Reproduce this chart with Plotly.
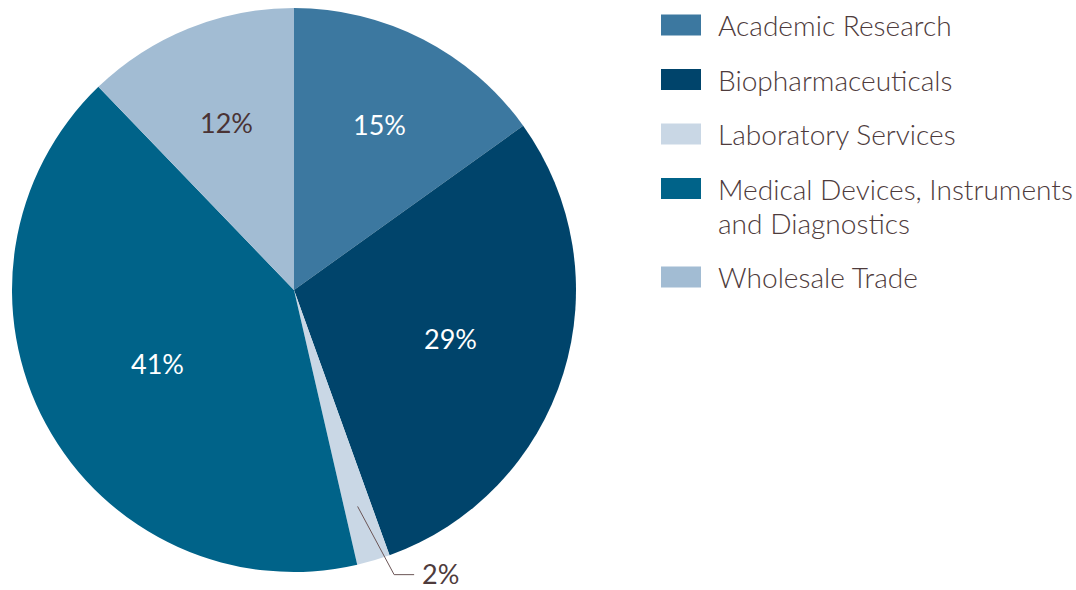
import math
import plotly.graph_objects as go

# ---- data ----
categories = ["Academic Research", "Biopharmaceuticals", "Laboratory Services",
              "Medical Devices, Instruments<br>and Diagnostics", "Wholesale Trade"]
values = [15.1, 29.4, 1.9, 41.4, 12.2]
colors = ["#3c78a0", "#00446b", "#c9d7e5", "#006389", "#a2bcd3"]
label_colors = ["#ffffff", "#ffffff", "#4a3334", "#ffffff", "#4a3334"]
label_radius = [0.66, 0.58, None, 0.55, 0.64]   # inside-label distance (fraction of radius)

W, H = 1076, 590
TEXT = "#4e3b3c"
FONT = "Lato"

# pie geometry (in screenshot pixels)
cx, cy, R = 294, 290, 282

def px(x):
    return x / W

def py(y):
    return 1 - y / H

fig = go.Figure()
fig.add_trace(go.Pie(
    labels=[c.replace("<br>", " ") for c in categories],
    values=values,
    sort=False,
    direction="clockwise",
    rotation=0,
    marker=dict(colors=colors, line=dict(width=0)),
    textinfo="none",
    domain=dict(x=[px(cx - R), px(cx + R)], y=[py(cy + R), py(cy - R)]),
    showlegend=False,
    hoverinfo="label+percent",
))

total = sum(values)
shapes = []
annotations = []
cum = 0.0
mids = []
for v in values:
    mids.append((cum + v / 2) / total * 2 * math.pi)
    cum += v

# inside labels at each slice's mid-angle
for v, a, rf, col in zip(values, mids, label_radius, label_colors):
    if rf is None:
        continue
    x = cx + rf * R * math.sin(a)
    y = cy - rf * R * math.cos(a)
    annotations.append(dict(xref="paper", yref="paper", x=px(x), y=py(y),
                            xanchor="center", yanchor="middle",
                            text=f"{round(v / total * 100)}%", showarrow=False,
                            font=dict(family=FONT, size=27, color=col, weight=400)))

# leader line + outside label for the small slice
mid = mids[2]
sx, sy = cx + 0.8 * R * math.sin(mid), cy - 0.8 * R * math.cos(mid)
a2 = mid - math.radians(3)
ex, ey = cx + 1.07 * R * math.sin(a2), cy - 1.07 * R * math.cos(a2)
shapes += [
    dict(type="line", xref="paper", yref="paper", x0=px(sx), y0=py(sy), x1=px(ex), y1=py(ey),
         line=dict(color="#6b5556", width=1)),
    dict(type="line", xref="paper", yref="paper", x0=px(ex), y0=py(ey), x1=px(ex + 20), y1=py(ey),
         line=dict(color="#6b5556", width=1)),
]
annotations.append(dict(xref="paper", yref="paper", x=px(ex + 27), y=py(ey - 1),
                        xanchor="left", yanchor="middle",
                        text=f"{round(values[2] / total * 100)}%", showarrow=False,
                        borderpad=0,
                        font=dict(family=FONT, size=27, color=TEXT, weight=400)))

# custom legend
ly = 25
for cat, col in zip(categories, colors):
    shapes.append(dict(type="rect", xref="paper", yref="paper",
                       x0=px(661), x1=px(701), y0=py(ly + 10.5), y1=py(ly - 10.5),
                       fillcolor=col, line=dict(width=0)))
    lines = cat.split("<br>")
    for j, t in enumerate(lines):
        annotations.append(dict(xref="paper", yref="paper", x=px(716), y=py(ly + 34 * j),
                                xanchor="left", yanchor="middle", text=t, showarrow=False,
                                font=dict(family=FONT, size=28.1, color=TEXT, weight=300)))
    ly += 54.5 + 34 * (len(lines) - 1)

fig.update_layout(
    width=W, height=H,
    margin=dict(l=0, r=0, t=0, b=0),
    paper_bgcolor="white",
    plot_bgcolor="white",
    shapes=shapes,
    annotations=annotations,
)

# remove the default page margin so the figure fills the window exactly
fig.write_html("out.html",
               config={"displayModeBar": False},
               post_script="document.body.style.margin='0';document.body.style.overflow='hidden';")
